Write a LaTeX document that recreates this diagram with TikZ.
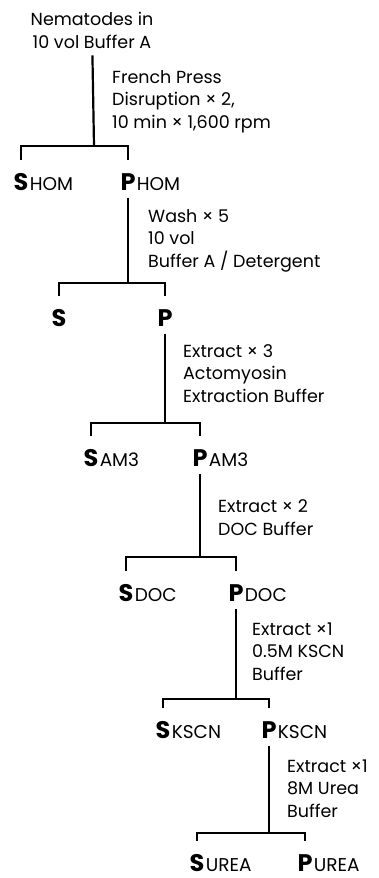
\documentclass[tikz,border=0pt]{standalone}
\usepackage{fontspec}
\setmainfont{Poppins}
\usetikzlibrary{positioning}

\begin{document}
\begin{tikzpicture}[
        x=1pt, y=-1pt,
        % styles
        lead/.style={inner sep=0pt, font=\fontsize{24}{24}\selectfont\bfseries},
        tail/.style={anchor=base west, inner sep=0pt, xshift=1pt, font=\fontsize{18.5}{18.5}\selectfont},
        stepinfo/.style={anchor=base west, inner sep=0pt, align=left, font=\fontsize{17.5}{22.5}\selectfont},
        treeline/.style={line width=2.2pt},
        fork/.style={treeline, shorten <=13pt, shorten >=13pt},
        trunk/.style={treeline, shorten <=7pt} ]

    \useasboundingbox (0,0) rectangle (378,878);

    % --- START ---
    % (base of a multi-line node = baseline of its last line)
    \node (nema) [stepinfo, align=center, anchor=base] at (92,48) {Nematodes in\\10 vol Buffer A};
    \node (info1) [stepinfo] at (112,128) {French Press\\Disruption × 2,\\10 min × 1,600 rpm};
    \coordinate (j1) at (94,146);

    % --- HOMOGENATE ---
    \node (shom) [lead] at (21,182) {S};
    \node (shom-t) [tail] at (shom.base east) {HOM};
    \node (phom) [lead] at (128,182) {P};
    \node (phom-t) [tail] at (phom.base east) {HOM};
    \node (info2) [stepinfo] at (148,267) {Wash × 5\\10 vol\\Buffer A / Detergent};
    \coordinate (j2) at (128,283);

    % --- WASH ---
    \node (swash) [lead] at (59,318) {S};
    \node (pwash) [lead] at (165,318) {P};
    \node (info3) [stepinfo] at (183,402) {Extract × 3\\Actomyosin\\Extraction Buffer};
    \coordinate (j3) at (165,423);

    % --- ACTOMYOSIN ---
    \node (sam3) [lead] at (91,458) {S};
    \node (sam3-t) [tail] at (sam3.base east) {AM3};
    \node (pam3) [lead] at (200,458) {P};
    \node (pam3-t) [tail] at (pam3.base east) {AM3};
    \node (info4) [stepinfo] at (218,535) {Extract × 2\\DOC Buffer};
    \coordinate (j4) at (200,557);

    % --- DOC ---
    \node (sdoc) [lead] at (126,593) {S};
    \node (sdoc-t) [tail] at (sdoc.base east) {DOC};
    \node (pdoc) [lead] at (236,593) {P};
    \node (pdoc-t) [tail] at (pdoc.base east) {DOC};
    \node (info5) [stepinfo] at (252,680) {Extract ×1\\0.5M KSCN\\Buffer};
    \coordinate (j5) at (236,699);

    % --- KSCN ---
    \node (skscn) [lead] at (163,730) {S};
    \node (skscn-t) [tail] at (skscn.base east) {KSCN};
    \node (pkscn) [lead] at (269,730) {P};
    \node (pkscn-t) [tail] at (pkscn.base east) {KSCN};
    \node (info6) [stepinfo] at (287,817) {Extract ×1\\8M Urea\\Buffer};
    \coordinate (j6) at (269,833);

    % --- UREA ---
    \node (surea) [lead] at (197,863) {S};
    \node (surea-t) [tail] at (surea.base east) {UREA};
    \node (purea) [lead] at (305,863) {P};
    \node (purea-t) [tail] at (purea.base east) {UREA};

    % --- CONNECTIONS ---
    \draw [trunk] (nema) -- (j1);
    \draw [fork] (shom) |- (j1) -| (phom);

    \draw [trunk] (phom) -- (j2);
    \draw [fork] (swash) |- (j2) -| (pwash);

    \draw [trunk] (pwash) -- (j3);
    \draw [fork] (sam3) |- (j3) -| (pam3);

    \draw [trunk] (pam3) -- (j4);
    \draw [fork] (sdoc) |- (j4) -| (pdoc);

    \draw [trunk] (pdoc) -- (j5);
    \draw [fork] (skscn) |- (j5) -| (pkscn);

    \draw [trunk] (pkscn) -- (j6);
    \draw [fork] (surea) |- (j6) -| (purea);

    \end{tikzpicture}
\end{document}
